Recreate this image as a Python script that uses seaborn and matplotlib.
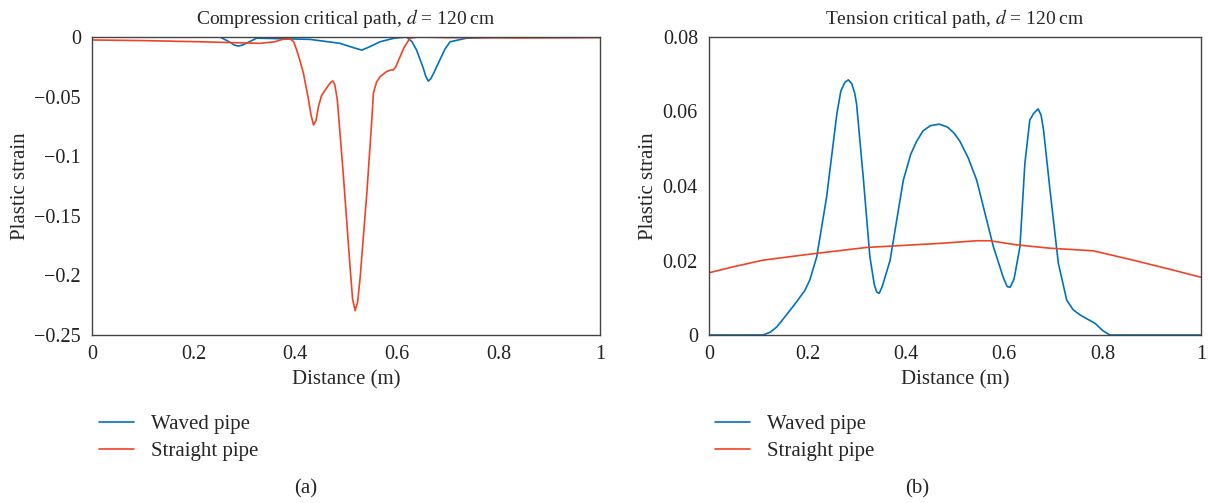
import matplotlib
matplotlib.use("Agg")
import matplotlib.pyplot as plt
import seaborn as sns
from matplotlib.lines import Line2D

# (a) compression critical path
comp_waved_x = [0.0, 0.20, 0.252, 0.27, 0.280, 0.288, 0.296, 0.305, 0.324, 0.38, 0.429, 0.488,
                0.515, 0.531, 0.545, 0.567, 0.595, 0.619, 0.63, 0.639, 0.652, 0.657, 0.662,
                0.667, 0.673, 0.685, 0.695, 0.705, 0.737, 0.80, 1.0]
comp_waved_y = [0.0, 0.0, 0.0, -0.004, -0.0068, -0.0076, -0.0068, -0.005, -0.001, -0.0015, -0.002, -0.0053,
                -0.009, -0.011, -0.0085, -0.004, -0.001, 0.0, -0.004, -0.011, -0.026, -0.033, -0.037,
                -0.035, -0.030, -0.019, -0.010, -0.004, -0.001, 0.0, 0.0]

comp_straight_x = [0.0, 0.1, 0.213, 0.331, 0.36, 0.375, 0.39, 0.397, 0.403, 0.409, 0.416, 0.426,
                   0.431, 0.436, 0.441, 0.446, 0.452, 0.463, 0.470, 0.474, 0.478, 0.483, 0.495,
                   0.508, 0.513, 0.518, 0.523, 0.528, 0.541, 0.550, 0.554, 0.560, 0.567, 0.580,
                   0.588, 0.593, 0.598, 0.603, 0.614, 0.626, 0.642, 0.7, 0.85, 1.0]
comp_straight_y = [-0.0025, -0.003, -0.004, -0.0053, -0.004, -0.002, -0.0015, -0.004, -0.011, -0.0193, -0.030, -0.052,
                   -0.065, -0.0738, -0.070, -0.058, -0.049, -0.042, -0.038, -0.0369, -0.040, -0.053, -0.117,
                   -0.193, -0.220, -0.2296, -0.222, -0.201, -0.131, -0.075, -0.047, -0.038, -0.0333, -0.0290,
                   -0.0277, -0.0277, -0.025, -0.020, -0.009, -0.001, 0.0, -0.0005, -0.0008, -0.0005]

# (b) tension critical path
tens_waved_x = [0.0, 0.11, 0.125, 0.138, 0.158, 0.178, 0.195, 0.205, 0.219, 0.239, 0.26, 0.268,
                0.276, 0.283, 0.290, 0.296, 0.300, 0.314, 0.327, 0.336, 0.341, 0.346, 0.352,
                0.360, 0.368, 0.395, 0.410, 0.422, 0.435, 0.450, 0.468, 0.485, 0.498, 0.510,
                0.527, 0.544, 0.578, 0.598, 0.606, 0.612, 0.620, 0.632, 0.642, 0.652, 0.660,
                0.669, 0.675, 0.680, 0.693, 0.710, 0.727, 0.740, 0.754, 0.770, 0.785, 0.80,
                0.815, 1.0]
tens_waved_y = [0.0, 0.0, 0.0008, 0.0022, 0.0055, 0.0089, 0.012, 0.0148, 0.021, 0.037, 0.0595, 0.0655,
                0.0678, 0.0685, 0.0675, 0.065, 0.062, 0.0416, 0.021, 0.0135, 0.0115, 0.0112, 0.013,
                0.0165, 0.020, 0.0416, 0.0485, 0.052, 0.0548, 0.0562, 0.0566, 0.0558, 0.0542, 0.052,
                0.0475, 0.0416, 0.0237, 0.0155, 0.013, 0.0128, 0.015, 0.0237, 0.046, 0.0577, 0.0595,
                0.0607, 0.059, 0.055, 0.039, 0.0193, 0.0094, 0.0068, 0.0054, 0.0042, 0.0031, 0.0012,
                0.0, 0.0]

tens_straight_x = [0.0, 0.049, 0.110, 0.205, 0.320, 0.470, 0.544, 0.571, 0.625, 0.693,
                   0.781, 0.862, 0.944, 1.0]
tens_straight_y = [0.0167, 0.0183, 0.0201, 0.0217, 0.0235, 0.0246, 0.0253, 0.0253, 0.0242, 0.0233,
                   0.0226, 0.0201, 0.0174, 0.0155]

x_ticks = [0, 0.2, 0.4, 0.6, 0.8, 1]
x_labels = ["0", "0.2", "0.4", "0.6", "0.8", "1"]
comp_ticks = [0, -0.05, -0.1, -0.15, -0.2, -0.25]
comp_labels = ["0", "\u22120.05", "\u22120.1", "\u22120.15", "\u22120.2", "\u22120.25"]
tens_ticks = [0, 0.02, 0.04, 0.06, 0.08]
tens_labels = ["0", "0.02", "0.04", "0.06", "0.08"]

blue = "#0072BD"
red = "#EE4424"

sns.set_style("white")
plt.rcParams['font.family'] = ['Liberation Serif', 'DejaVu Serif']
plt.rcParams['mathtext.fontset'] = 'stix'
plt.rcParams['font.size'] = 14

fig = plt.figure(figsize=(12.08, 5.03), dpi=100)
ax1 = fig.add_axes([92 / 1208, 1 - 335 / 503, 508 / 1208, 298 / 503])
ax2 = fig.add_axes([709 / 1208, 1 - 335 / 503, 492 / 1208, 298 / 503])

sns.lineplot(x=comp_waved_x, y=comp_waved_y, ax=ax1, color=blue, lw=1.2)
sns.lineplot(x=comp_straight_x, y=comp_straight_y, ax=ax1, color=red, lw=1.2)
sns.lineplot(x=tens_waved_x, y=tens_waved_y, ax=ax2, color=blue, lw=1.2)
sns.lineplot(x=tens_straight_x, y=tens_straight_y, ax=ax2, color=red, lw=1.2)

ax1.set_ylim(-0.25, 0)
ax2.set_ylim(0, 0.08)
ax1.set_yticks(comp_ticks)
ax1.set_yticklabels(comp_labels)
ax2.set_yticks(tens_ticks)
ax2.set_yticklabels(tens_labels)

ax1.set_title("Compression critical path, $d$ = 120\u2009cm", fontsize=14, pad=9)
ax2.set_title("Tension critical path, $d$ = 120\u2009cm", fontsize=14, pad=9)

for ax in (ax1, ax2):
    ax.set_xlim(0, 1)
    ax.set_xticks(x_ticks)
    ax.set_xticklabels(x_labels)
    ax.set_xlabel("Distance (m)", fontsize=15, labelpad=5)
    ax.set_ylabel("Plastic strain", fontsize=15, labelpad=3)
    ax.tick_params(length=0, labelsize=14.5, colors="#222222")
    ax.tick_params(axis="x", pad=7)
    ax.tick_params(axis="y", pad=8)
    for s in ax.spines.values():
        s.set_color("#444444")
        s.set_linewidth(1.0)

handles = [Line2D([], [], color=blue, lw=1.2), Line2D([], [], color=red, lw=1.2)]
names = ["Waved pipe", "Straight pipe"]
fig.legend(handles, names, loc="upper left", bbox_to_anchor=(80 / 1208, 1 - 396 / 503),
           frameon=False, fontsize=15, handlelength=1.7, handletextpad=0.8, labelspacing=0.35)
fig.legend(handles, names, loc="upper left", bbox_to_anchor=(696 / 1208, 1 - 396 / 503),
           frameon=False, fontsize=15, handlelength=1.7, handletextpad=0.8, labelspacing=0.35)

fig.text(306 / 1208, 1 - 489 / 503, "(a)", ha="center", va="center", fontsize=15)
fig.text(917 / 1208, 1 - 489 / 503, "(b)", ha="center", va="center", fontsize=15)

fig.savefig("out.png", dpi=100)
